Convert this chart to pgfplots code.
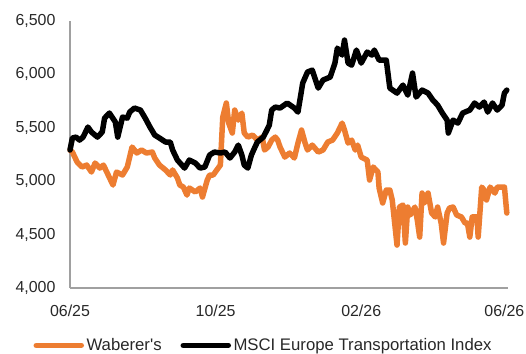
\documentclass[border=0pt]{standalone}
\usepackage{fontspec}
\setmainfont{Liberation Sans}[Ligatures=TeXOff]
\usepackage{pgfplots}
\pgfplotsset{compat=1.18}
\definecolor{wab}{RGB}{237,125,49}
\definecolor{axgray}{RGB}{160,160,160}
\definecolor{txt}{RGB}{40,40,40}
\begin{document}
\begin{tikzpicture}
\begin{axis}[
  scale only axis,
  width=438bp, height=267bp,
  xmin=0, xmax=367, ymin=4000, ymax=6500,
  axis lines=left,
  axis line style={axgray, line width=1.3bp, -},
  major tick length=0pt,
  xtick={0,122,244,364},
  xticklabels={06/25,10/25,02/26,06/26},
  ytick={4000,4500,5000,5500,6000,6500},
  /pgf/number format/assume math mode=true,
  /pgf/number format/.cd, 1000 sep={,}, /pgfplots/.cd,
  tick label style={font=\fontsize{16}{18}\selectfont, text=txt},
  yticklabel style={anchor=east, xshift=-11bp},
  xticklabel style={anchor=north, yshift=-13bp},
  legend style={at={(0.4424,-0.215)}, anchor=center, draw=none, fill=none,
    font=\fontsize{16.8}{19}\selectfont, text=txt,
    legend columns=2,
    /tikz/every odd column/.append style={column sep=0bp},
    nodes={inner xsep=2.5bp},
    inner sep=0pt},
  legend image code/.code={\draw[#1] (0bp,0bp) -- (45bp,0bp);},
  every axis plot/.append style={line width=5.5bp, line join=round, line cap=round},
  clip=false,
]
\addplot[wab] coordinates {
(0,5292)(2,5273)(6,5179)(10,5133)(14,5151)(18,5086)(21,5170)(25,5123)(28,5151)(32,5058)
(36,4964)(39,5086)(44,5058)(48,5133)(52,5320)(56,5264)(60,5292)(64,5264)(69,5273)(71,5217)
(75,5151)(80,5105)(84,5058)(86,5105)(90,5030)(92,4964)(95,4945)(98,4870)(100,4936)(105,4899)
(109,4936)(111,4852)(115,5011)(117,5058)(120,5058)(123,5105)(126,5151)(128,5600)(131,5732)(133,5544)
(136,5451)(138,5666)(141,5572)(144,5638)(146,5451)(149,5413)(153,5432)(157,5385)(161,5413)(163,5292)
(166,5320)(169,5385)(172,5413)(174,5385)(176,5320)(180,5226)(184,5264)(188,5217)(191,5357)(194,5479)
(197,5357)(199,5292)(203,5338)(208,5273)(212,5292)(216,5367)(220,5385)(224,5451)(228,5544)(230,5479)
(233,5357)(236,5385)(239,5292)(241,5338)(244,5226)(249,5198)(251,5011)(254,5133)(258,5086)(259,4936)
(262,4796)(265,4917)(268,4917)(270,4824)(274,4402)(276,4758)(279,4777)(281,4421)(283,4758)(285,4683)
(289,4758)(291,4636)(293,4477)(295,4889)(297,4796)(300,4889)(303,4702)(306,4665)(308,4758)(311,4608)
(313,4421)(316,4702)(318,4749)(321,4758)(324,4683)(328,4665)(331,4608)(333,4608)(335,4477)(337,4665)
(341,4665)(342,4477)(345,4945)(347,4917)(349,4824)(352,4945)(356,4889)(358,4945)(362,4945)(364,4945)
(366,4702)
};
\addlegendentry{\makebox[91.5bp][l]{Waberer's}}
\addplot[black] coordinates {
(0,5292)(2,5404)(5,5413)(8,5385)(11,5413)(15,5507)(18,5460)(23,5413)(27,5460)(29,5591)
(33,5638)(38,5554)(40,5413)(44,5600)(48,5591)(50,5647)(54,5685)(59,5666)(63,5591)(67,5507)
(71,5432)(75,5404)(80,5367)(84,5367)(86,5292)(90,5198)(96,5123)(100,5198)(105,5170)(109,5123)
(113,5133)(117,5245)(121,5273)(126,5264)(130,5273)(134,5217)(138,5273)(141,5338)(144,5245)(146,5151)
(149,5123)(152,5245)(155,5320)(157,5367)(162,5413)(165,5479)(167,5526)(169,5666)(172,5694)(176,5685)
(182,5732)(188,5685)(191,5647)(195,5919)(199,6022)(203,6040)(208,5872)(212,5947)(218,5975)(222,6106)
(224,6246)(228,6181)(230,6321)(233,6106)(236,6087)(240,6228)(244,6106)(249,6209)(253,6181)(255,6228)
(259,6134)(265,6134)(268,5872)(274,5825)(279,5900)(283,5806)(287,6012)(290,5788)(295,5853)(300,5825)
(304,5760)(308,5713)(312,5638)(316,5572)(317,5451)(321,5572)(325,5544)(329,5638)(335,5666)(339,5732)
(343,5694)(347,5741)(350,5647)(354,5732)(358,5666)(362,5713)(364,5825)(366,5853)
};
\addlegendentry{MSCI Europe Transportation Index}
\end{axis}
\pgfresetboundingbox
\useasboundingbox (-70bp,-66bp) rectangle (456bp,288bp);
\end{tikzpicture}
\end{document}
